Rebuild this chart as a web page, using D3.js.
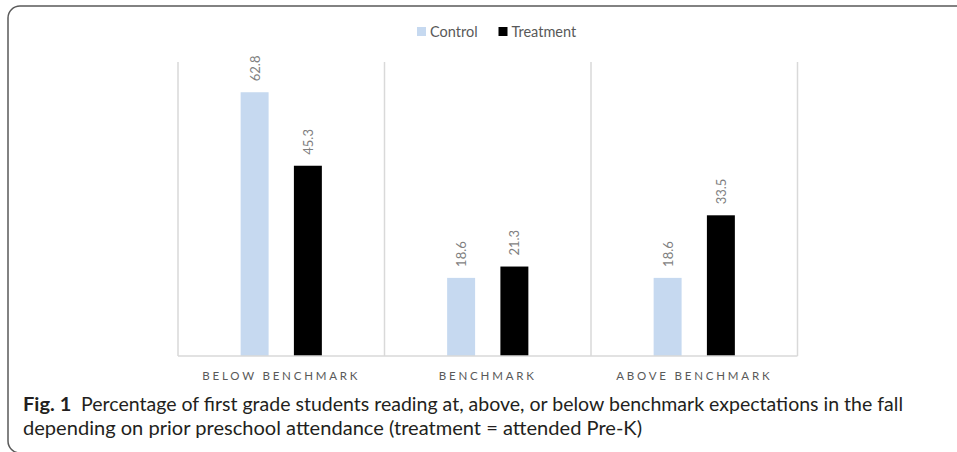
<!DOCTYPE html>
<html>
<head>
<meta charset="utf-8">
<script src="https://cdn.jsdelivr.net/npm/d3@7"></script>
<style>
  html, body { margin: 0; padding: 0; background: #fff; }
  svg { display: block; }
</style>
</head>
<body>
<svg id="chart" width="957" height="452"></svg>
<script>
// Reading benchmark groups and series
const categories = ["BELOW BENCHMARK", "BENCHMARK", "ABOVE BENCHMARK"];
const seriesNames = ["Control", "Treatment"];
const controlValues = [62.8, 18.6, 18.6];
const treatmentValues = [45.3, 21.3, 33.5];
const seriesColors = ["#c6d9f0", "#000000"];
const captionLabel = "Fig. 1";
const captionLine1 = "Percentage of first grade students reading at, above, or below benchmark expectations in the fall";
const captionLine2 = "depending on prior preschool attendance (treatment = attended Pre-K)";

const values = [controlValues, treatmentValues];

const svg = d3.select("#chart");

// Outer figure frame (rounded, running past the right and bottom edges)
svg.append("rect")
  .attr("x", 8).attr("y", 6)
  .attr("width", 1000).attr("height", 447)
  .attr("rx", 12).attr("ry", 12)
  .attr("fill", "none")
  .attr("stroke", "#5a5a5a")
  .attr("stroke-width", 1.5);

const plot = { left: 178, right: 797.5, top: 62, bottom: 356 };

const x0 = d3.scaleBand()
  .domain(categories)
  .range([plot.left, plot.right])
  .padding(0);

const x1 = d3.scaleBand()
  .domain(seriesNames)
  .range([0, x0.bandwidth()])
  .paddingInner(0.475)
  .paddingOuter(1.176);

const y = d3.scaleLinear()
  .domain([0, 70])
  .range([plot.bottom, plot.top]);

// Category separators and left edge
const sepPositions = [plot.left].concat(categories.map(c => x0(c) + x0.bandwidth()));
svg.append("g").selectAll("line")
  .data(sepPositions)
  .join("line")
  .attr("x1", d => d).attr("x2", d => d)
  .attr("y1", y(70)).attr("y2", y(0))
  .attr("stroke", "#d9d9d9")
  .attr("stroke-width", 1.5);

// Bars
const groups = svg.append("g").selectAll("g")
  .data(categories)
  .join("g")
  .attr("transform", c => `translate(${x0(c)},0)`);

groups.selectAll("rect")
  .data((c, i) => seriesNames.map((s, j) => ({ s, j, v: values[j][i] })))
  .join("rect")
  .attr("x", d => x1(d.s))
  .attr("y", d => y(d.v))
  .attr("width", x1.bandwidth())
  .attr("height", d => y(0) - y(d.v))
  .attr("fill", d => seriesColors[d.j]);

// Rotated value labels above bars
groups.selectAll("text")
  .data((c, i) => seriesNames.map((s, j) => ({ s, j, v: values[j][i] })))
  .join("text")
  .attr("transform", d => `translate(${x1(d.s) + x1.bandwidth() / 2},${y(d.v) - 11}) rotate(-90)`)
  .attr("text-anchor", "start")
  .attr("dominant-baseline", "central")
  .attr("font-family", "Lato, 'Open Sans', sans-serif")
  .attr("font-size", 13)
  .attr("fill", "#7f7f7f")
  .text(d => d.v.toFixed(1));

// Baseline axis
svg.append("line")
  .attr("x1", plot.left).attr("x2", plot.right)
  .attr("y1", y(0)).attr("y2", y(0))
  .attr("stroke", "#d9d9d9")
  .attr("stroke-width", 1.5);

// Category labels
const xAxis = d3.axisBottom(x0).tickSize(0).tickPadding(16);
const axisG = svg.append("g")
  .attr("transform", `translate(0,${y(0)})`)
  .call(xAxis);
axisG.select(".domain").remove();
axisG.selectAll("text")
  .attr("font-family", "Lato, 'Open Sans', sans-serif")
  .attr("font-size", 11.5)
  .attr("letter-spacing", "2.8px")
  .attr("fill", "#595959");

// Legend
const legend = svg.append("g").attr("transform", "translate(417,27)");
const legendOffsets = [0, 81.5];
const legendItems = legend.selectAll("g")
  .data(seriesNames)
  .join("g")
  .attr("transform", (d, i) => `translate(${legendOffsets[i]},0)`);
legendItems.append("rect")
  .attr("width", 9).attr("height", 9)
  .attr("fill", (d, i) => seriesColors[i]);
legendItems.append("text")
  .attr("x", 13).attr("y", 4.5)
  .attr("dominant-baseline", "central")
  .attr("font-family", "Lato, 'Open Sans', sans-serif")
  .attr("font-size", 14.5)
  .attr("fill", "#595959")
  .text(d => d);

// Figure caption
const cap1 = svg.append("text")
  .attr("x", 23).attr("y", 411)
  .attr("font-family", "Lato, 'Open Sans', sans-serif")
  .attr("font-size", 18.5)
  .attr("fill", "#231f20")
  .attr("textLength", 880)
  .attr("lengthAdjust", "spacingAndGlyphs");
cap1.append("tspan").attr("font-weight", "bold").attr("font-size", 19).text(captionLabel);
cap1.append("tspan").text("\u2002" + captionLine1);

svg.append("text")
  .attr("x", 23).attr("y", 435)
  .attr("font-family", "Lato, 'Open Sans', sans-serif")
  .attr("font-size", 18.5)
  .attr("fill", "#231f20")
  .attr("textLength", 619)
  .attr("lengthAdjust", "spacingAndGlyphs")
  .text(captionLine2);
</script>
</body>
</html>
